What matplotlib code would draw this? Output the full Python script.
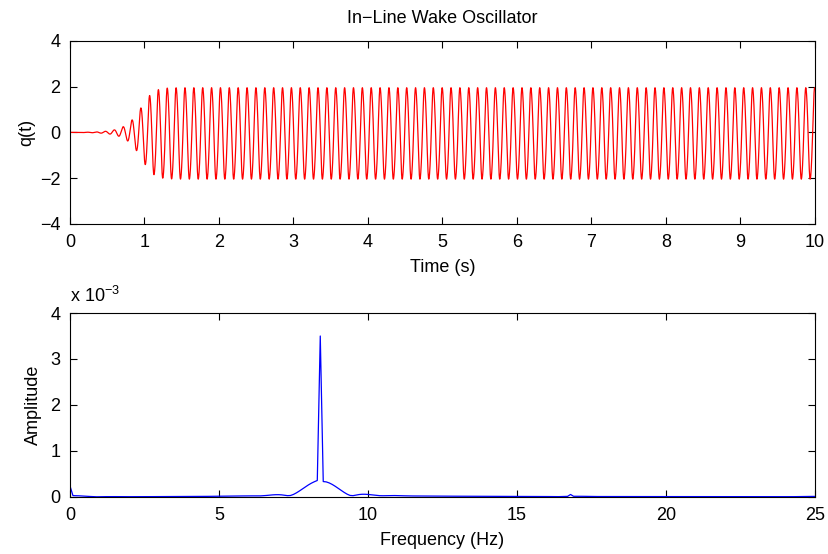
import numpy as np
import matplotlib.pyplot as plt

plt.rcParams["font.family"] = ["Liberation Sans", "DejaVu Sans"]
plt.rcParams["mathtext.fontset"] = "custom"
plt.rcParams["mathtext.rm"] = "Liberation Sans"
plt.rcParams["mathtext.it"] = "Liberation Sans:italic"
plt.rcParams["font.size"] = 13

# values
t_end = 10.0
dt = 0.0005
shedding_freq = 8.453     # Hz, linear freq; settles at ~8.40 Hz (main spectral peak)
wake_eps = 0.26           # van der Pol parameter, from growth between t=0.5 and t=1.1
q_start = 0.0018          # tiny initial wake disturbance
quad_coef = 0.035         # small asymmetry -> 2f peak near 16.7 Hz and the DC spike
peak_amplitude = 3.5e-3   # height of main spectral peak

time_ticks = [0, 1, 2, 3, 4, 5, 6, 7, 8, 9, 10]
q_ticks = [-4, -2, 0, 2, 4]
freq_ticks = [0, 5, 10, 15, 20, 25]
amp_ticks = [0, 1, 2, 3, 4]


def wake_rhs(state, w):
    q, v = state
    acc = wake_eps * w * (1 - q * q) * v - w * w * q - quad_coef * w * w * q * q
    return np.array([v, acc])


def simulate():
    w = 2 * np.pi * shedding_freq
    n = int(round(t_end / dt))
    t = np.arange(n) * dt
    q = np.zeros(n)
    state = np.array([q_start, 0.0])
    for i in range(n):
        q[i] = state[0]
        k1 = wake_rhs(state, w)
        k2 = wake_rhs(state + 0.5 * dt * k1, w)
        k3 = wake_rhs(state + 0.5 * dt * k2, w)
        k4 = wake_rhs(state + dt * k3, w)
        state = state + dt / 6 * (k1 + 2 * k2 + 2 * k3 + k4)
    return t, q


t, q = simulate()

spec = np.abs(np.fft.rfft(q))
freqs = np.fft.rfftfreq(len(q), dt)
amp = spec / spec.max() * peak_amplitude

fig = plt.figure(figsize=(8.29, 5.54), dpi=100)
ax1 = fig.add_axes([0.0844, 0.596, 0.8986, 0.330])
ax2 = fig.add_axes([0.0844, 0.103, 0.8986, 0.332])

ax1.plot(t, q, color="red", lw=0.9)
ax1.set_xlim(0, 10)
ax1.set_ylim(-4, 4)
ax1.set_xticks(time_ticks)
ax1.set_yticks(q_ticks)
ax1.set_xlabel("Time (s)", labelpad=6)
ax1.set_ylabel("q(t)", labelpad=3)
ax1.set_title("In\u2212Line Wake Oscillator", fontsize=13, pad=13)

mask = freqs <= 25.0
ax2.plot(freqs[mask], amp[mask] * 1e3, color="blue", lw=0.9)
ax2.set_xlim(0, 25)
ax2.set_ylim(0, 4)
ax2.set_xticks(freq_ticks)
ax2.set_yticks(amp_ticks)
ax2.set_xlabel("Frequency (Hz)", labelpad=6)
ax2.set_ylabel("Amplitude", labelpad=6)
ax2.text(0.0, 1.04, "x 10$^{\\mathregular{\u2212}3}$", transform=ax2.transAxes,
         ha="left", va="bottom", fontsize=13)

for ax in (ax1, ax2):
    ax.tick_params(direction="in", top=True, right=True, length=5, width=0.8,
                   labelsize=13, pad=7)
    for s in ax.spines.values():
        s.set_linewidth(0.8)

fig.savefig("out.png", dpi=100)
